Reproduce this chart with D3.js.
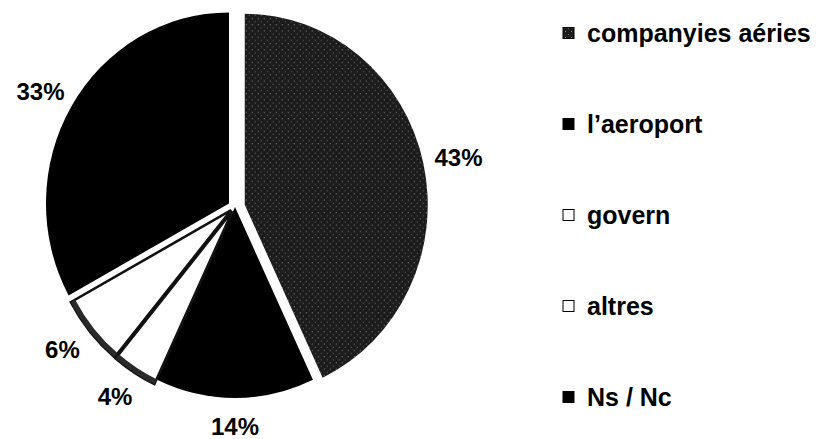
<!DOCTYPE html>
<html>
<head>
<meta charset="utf-8">
<script src="https://cdn.jsdelivr.net/npm/d3@7"></script>
<style>
  html, body { margin: 0; padding: 0; background: #fff; }
  svg { display: block; }
  text { font-family: "Liberation Sans", Arial, Helvetica, sans-serif; font-weight: bold; fill: #000; }
</style>
</head>
<body>
<svg id="chart" width="821" height="439"></svg>
<script>
// ---- data ----
const categories = ["companyies aéries", "l\u2019aeroport", "govern", "altres", "Ns / Nc"];
const values = [43, 14, 4, 6, 33];
const labels = ["43%", "14%", "4%", "6%", "33%"];
const legendLabels = ["companyies aéries", "l\u2019aeroport", "govern", "altres", "Ns / Nc"];

// ---- styles ----
const fills = ["url(#speckle)", "#000000", "#ffffff", "#ffffff", "#000000"];
const strokes = ["none", "none", "#111", "#111", "none"];
const explode = [10, 0, 5, 5, 7];

const svg = d3.select("#chart");
const cx = 235, cy = 207;
const rx = 183, yScale = 191 / 183;
const labelR = 219;

// speckled dark-grey texture for the first slice
const defs = svg.append("defs");
const pat = defs.append("pattern").attr("id", "speckle")
  .attr("patternUnits", "userSpaceOnUse").attr("width", 6).attr("height", 6);
pat.append("rect").attr("width", 6).attr("height", 6).attr("fill", "#1c1c1c");
pat.append("rect").attr("x", 1).attr("y", 1).attr("width", 1).attr("height", 1).attr("fill", "#8a8a8a");
pat.append("rect").attr("x", 4).attr("y", 4).attr("width", 1).attr("height", 1).attr("fill", "#6a6a6a");

const pie = d3.pie().sort(null).value(d => d).startAngle(0).endAngle(2 * Math.PI);
const arcs = pie(values);
const arc = d3.arc().innerRadius(0).outerRadius(rx);
const rim = d3.arc().innerRadius(rx - 5).outerRadius(rx);

const g = svg.append("g").attr("transform", `translate(${cx},${cy})`);

arcs.forEach((a, i) => {
  const mid = (a.startAngle + a.endAngle) / 2;
  const dx = Math.sin(mid) * explode[i];
  const dy = -Math.cos(mid) * explode[i];
  const sg = g.append("g").attr("transform", `translate(${dx},${dy}) scale(1,${yScale})`);
  sg.append("path")
    .attr("d", arc(a))
    .attr("fill", fills[i])
    .attr("stroke", strokes[i])
    .attr("stroke-width", strokes[i] === "none" ? 0 : 2.5)
    .attr("stroke-linejoin", "miter");
  if (fills[i] === "#ffffff") {
    sg.append("path").attr("d", rim(a)).attr("fill", "#2a2a2a");
  }
  g.append("text")
    .attr("x", dx + Math.sin(mid) * labelR)
    .attr("y", dy - Math.cos(mid) * labelR)
    .attr("text-anchor", "middle")
    .attr("dominant-baseline", "central")
    .attr("font-size", 24)
    .text(labels[i]);
});

// ---- legend ----
const legendY = d3.scalePoint().domain(d3.range(categories.length)).range([33, 397]);
const lg = svg.append("g");
categories.forEach((c, i) => {
  const y = legendY(i);
  lg.append("rect")
    .attr("x", 563).attr("y", y - 5.5)
    .attr("width", 11).attr("height", 11)
    .attr("fill", fills[i])
    .attr("stroke", "#000").attr("stroke-width", 1);
  lg.append("text")
    .attr("x", 587).attr("y", y)
    .attr("dominant-baseline", "central")
    .attr("font-size", 25)
    .text(legendLabels[i]);
});
</script>
</body>
</html>
